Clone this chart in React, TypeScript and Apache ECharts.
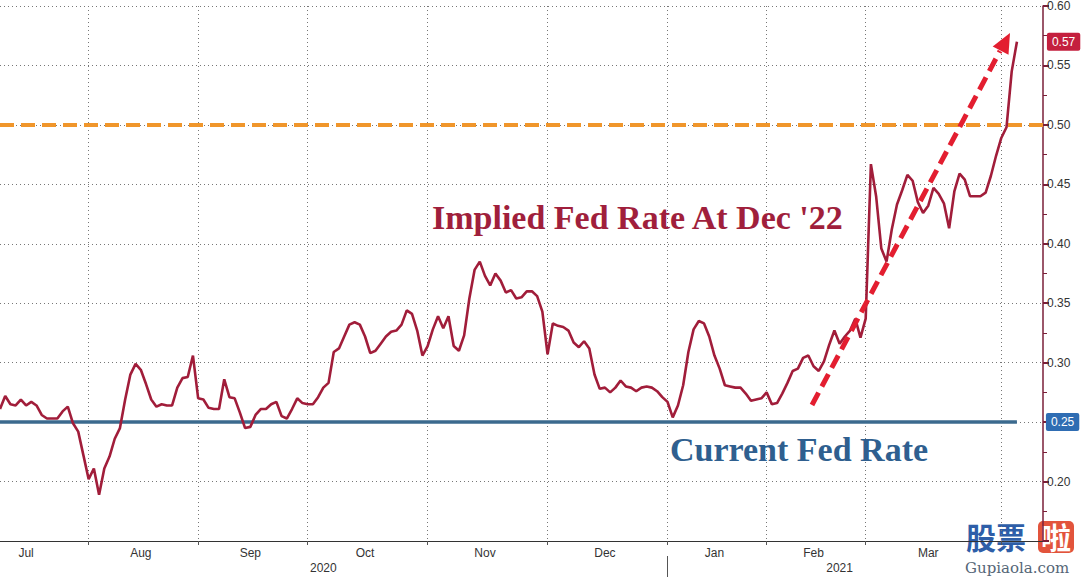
import React, { useEffect, useRef } from "react";
import * as echarts from "echarts";

// Implied Fed rate at Dec '22 (one value per trading-day slot)
const impliedRate: number[] = [
  0.261, 0.272, 0.265, 0.264, 0.269, 0.264, 0.267, 0.264, 0.256, 0.253,
  0.253, 0.253, 0.259, 0.263, 0.249, 0.242, 0.222, 0.202, 0.211, 0.189,
  0.211, 0.221, 0.236, 0.245, 0.269, 0.290, 0.299, 0.294, 0.282, 0.269,
  0.263, 0.265, 0.264, 0.264, 0.279, 0.287, 0.288, 0.306, 0.270, 0.269,
  0.262, 0.261, 0.261, 0.286, 0.271, 0.270, 0.258, 0.245, 0.246, 0.256,
  0.261, 0.261, 0.265, 0.267, 0.255, 0.253, 0.261, 0.270, 0.266, 0.265,
  0.265, 0.271, 0.279, 0.283, 0.309, 0.312, 0.322, 0.332, 0.334, 0.332,
  0.322, 0.308, 0.310, 0.316, 0.322, 0.326, 0.327, 0.332, 0.344, 0.341,
  0.327, 0.306, 0.314, 0.328, 0.339, 0.329, 0.339, 0.314, 0.310, 0.323,
  0.354, 0.378, 0.385, 0.373, 0.365, 0.375, 0.369, 0.359, 0.361, 0.354,
  0.355, 0.360, 0.360, 0.356, 0.343, 0.307, 0.333, 0.331, 0.330, 0.327,
  0.317, 0.313, 0.318, 0.312, 0.290, 0.278, 0.279, 0.275, 0.279, 0.285,
  0.280, 0.279, 0.276, 0.279, 0.280, 0.279, 0.276, 0.271, 0.267, 0.254,
  0.264, 0.281, 0.309, 0.328, 0.335, 0.333, 0.322, 0.306, 0.295, 0.281,
  0.280, 0.279, 0.279, 0.274, 0.268, 0.269, 0.270, 0.275, 0.265, 0.266,
  0.274, 0.283, 0.293, 0.295, 0.304, 0.306, 0.297, 0.293, 0.301, 0.315,
  0.327, 0.316, 0.322, 0.327, 0.337, 0.321, 0.337, 0.467, 0.440, 0.396,
  0.385, 0.412, 0.433, 0.445, 0.458, 0.453, 0.435, 0.426, 0.432, 0.447,
  0.442, 0.434, 0.413, 0.444, 0.459, 0.454, 0.440, 0.440, 0.440, 0.443,
  0.457, 0.474, 0.489, 0.498, 0.545, 0.570,
];

const slotCount = 201;
const categories: string[] = Array.from({ length: slotCount }, (_, i) => String(i));

// slot index where each month starts (Aug .. Apr)
const monthStarts: number[] = [17, 38, 59, 82, 105, 128, 147, 166, 192];
// slot index where each month label sits
const monthLabelIdx: number[] = [5, 27, 48, 70, 93, 116, 137, 156, 178];
const monthNames: string[] = ["Jul", "Aug", "Sep", "Oct", "Nov", "Dec", "Jan", "Feb", "Mar"];
const yearLabelIdx: number[] = [62, 161];
const yearNames: string[] = ["2020", "2021"];
const yearBreakIdx = 128;

const currentRate = 0.25;
const thresholdRate = 0.5;
const lastSlot = impliedRate.length - 1;

const RED_LINE = "#a11d3a";
const BLUE_LINE = "#3b6a8e";

export default function App() {
  const ref = useRef<HTMLDivElement>(null);

  useEffect(() => {
    if (!ref.current) return;
    const chart = echarts.init(ref.current, null, { renderer: "svg" });

    const axisFont = { fontFamily: "Liberation Sans, Arial, sans-serif", fontSize: 12, color: "#333" };

    chart.setOption({
      animation: false,
      backgroundColor: "#ffffff",
      grid: { left: 0, right: 38, top: 5, bottom: 36, containLabel: false },
      xAxis: [
        {
          type: "category",
          data: categories,
          boundaryGap: false,
          axisLine: { show: true, lineStyle: { color: "#333", width: 1 } },
          axisTick: {
            show: true,
            interval: (i: number) => monthStarts.includes(i),
            length: 4,
            lineStyle: { color: "#555" },
          },
          axisLabel: {
            ...axisFont,
            margin: 6,
            interval: (i: number) => monthLabelIdx.includes(i),
            formatter: (_v: string, i: number) => {
              const k = monthLabelIdx.indexOf(i);
              return k >= 0 ? monthNames[k] : "";
            },
          },
          splitLine: {
            show: true,
            interval: (i: number) => monthStarts.includes(i),
            lineStyle: { color: "#777", type: [1, 3], width: 1 },
          },
        },
        {
          type: "category",
          data: categories,
          boundaryGap: false,
          position: "bottom",
          offset: 15,
          axisLine: { show: false },
          axisTick: {
            show: true,
            interval: (i: number) => i === yearBreakIdx,
            length: 24,
            lineStyle: { color: "#555" },
          },
          axisLabel: {
            ...axisFont,
            margin: 6,
            interval: (i: number) => yearLabelIdx.includes(i),
            formatter: (_v: string, i: number) => {
              const k = yearLabelIdx.indexOf(i);
              return k >= 0 ? yearNames[k] : "";
            },
          },
          splitLine: { show: false },
        },
      ],
      yAxis: {
        type: "value",
        position: "right",
        min: 0.15,
        max: 0.6,
        interval: 0.05,
        axisLine: { show: true, lineStyle: { color: "#7a1f38", width: 1.5 } },
        axisTick: { show: true, length: 6, lineStyle: { color: "#7a1f38", width: 2 } },
        minorTick: { show: true, splitNumber: 2, length: 4, lineStyle: { color: "#7a1f38" } },
        axisLabel: {
          ...axisFont,
          margin: 4,
          showMinLabel: false,
          // the 0.25 level is shown by its own tag, which covers the tick label
          formatter: (v: number) => (Math.abs(v - currentRate) < 1e-9 ? "" : v.toFixed(2)),
        },
        splitLine: { show: true, lineStyle: { color: "#777", type: [1, 3], width: 1 } },
      },
      series: [
        {
          type: "line",
          name: "Implied Fed Rate At Dec '22",
          data: impliedRate,
          showSymbol: false,
          symbol: "none",
          lineStyle: { color: RED_LINE, width: 2.6 },
          z: 5,
          endLabel: {
            show: true,
            formatter: (p: any) => Number(p.value).toFixed(2),
            color: "#fff",
            backgroundColor: "#c41f3e",
            padding: [3, 5, 3, 5],
            borderRadius: 2,
            distance: 30,
            fontFamily: "Liberation Sans, Arial, sans-serif",
            fontSize: 12,
          },
          markLine: {
            silent: true,
            symbol: "none",
            animation: false,
            data: [
              {
                yAxis: thresholdRate,
                lineStyle: { color: "#f0962b", width: 4, type: [14, 7] },
                label: { show: false },
              },
              [
                {
                  coord: [0, currentRate],
                  lineStyle: { color: BLUE_LINE, width: 3.5, type: "solid" },
                  label: {
                    show: true,
                    position: "end",
                    distance: 29,
                    formatter: () => currentRate.toFixed(2),
                    color: "#fff",
                    backgroundColor: "#2f6db3",
                    padding: [3, 5, 3, 5],
                    borderRadius: 2,
                    fontFamily: "Liberation Sans, Arial, sans-serif",
                    fontSize: 12,
                  },
                },
                { coord: [lastSlot, currentRate] },
              ],
            ],
          },
        },
      ],
      graphic: [
        {
          type: "line",
          z: 10,
          shape: { x1: 812, y1: 405, x2: 1000, y2: 51 },
          style: { stroke: "#e31e30", lineWidth: 5, lineDash: [14, 7] },
        },
        {
          type: "polygon",
          z: 10,
          shape: { points: [[1010, 33], [992.7, 46.4], [1008.5, 54.8]] },
          style: { fill: "#e31e30" },
        },
        {
          type: "text",
          left: 432,
          top: 200,
          z: 10,
          style: {
            text: "Implied Fed Rate At Dec '22",
            fill: "#a01f3c",
            font: "bold 34px 'Liberation Serif', 'Times New Roman', serif",
          },
        },
        {
          type: "text",
          left: 670,
          top: 432,
          z: 10,
          style: {
            text: "Current Fed Rate",
            fill: "#2f5f8f",
            font: "bold 34px 'Liberation Serif', 'Times New Roman', serif",
          },
        },
        {
          type: "group",
          left: 962,
          top: 518,
          z: 20,
          children: [
            {
              type: "rect",
              shape: { x: 0, y: 0, width: 119, height: 59 },
              style: { fill: "rgba(255,255,255,0.75)" },
            },
            {
              type: "text",
              x: 4,
              y: 2,
              style: {
                text: "股票",
                fill: "#2e5ea8",
                font: "bold 30px 'Noto Sans CJK SC', sans-serif",
                lineHeight: 32,
              },
            },
            {
              type: "rect",
              shape: { x: 76, y: 3, width: 36, height: 32, r: 5 },
              style: { fill: "#e2543c" },
            },
            {
              type: "text",
              x: 79,
              y: 2,
              style: {
                text: "啦",
                fill: "#ffffff",
                font: "bold 30px 'Noto Sans CJK SC', sans-serif",
                lineHeight: 32,
              },
            },
            {
              type: "text",
              x: 3,
              y: 42,
              style: {
                text: "Gupiaola.com",
                fill: "#556677",
                font: "15px 'DejaVu Serif', serif",
                lineHeight: 16,
              },
            },
          ],
        },
      ],
    });

    return () => chart.dispose();
  }, []);

  return (
    <div
      ref={ref}
      style={{ position: "fixed", left: 0, top: 0, width: 1081, height: 577, background: "#fff" }}
    />
  );
}
